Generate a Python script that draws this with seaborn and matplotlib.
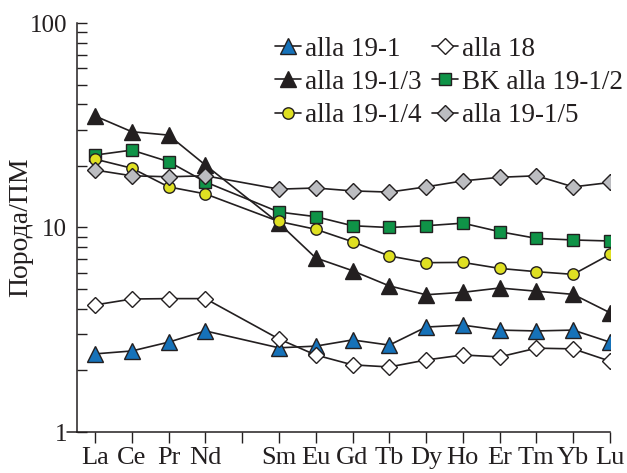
import matplotlib
matplotlib.use("Agg")
import matplotlib.pyplot as plt
import seaborn as sns
import numpy as np
import pandas as pd

elements = ["La", "Ce", "Pr", "Nd", "Pm", "Sm", "Eu", "Gd", "Tb", "Dy", "Ho", "Er", "Tm", "Yb", "Lu"]
used = ["La", "Ce", "Pr", "Nd", "Sm", "Eu", "Gd", "Tb", "Dy", "Ho", "Er", "Tm", "Yb", "Lu"]

alla_19_1 = [2.41, 2.49, 2.75, 3.12, 2.58, 2.63, 2.82, 2.66, 3.26, 3.33, 3.15, 3.12, 3.15, 2.75]
alla_18 = [4.18, 4.47, 4.49, 4.49, 2.85, 2.38, 2.13, 2.08, 2.25, 2.38, 2.33, 2.57, 2.55, 2.22]
alla_19_1_3 = [35.1, 29.4, 28.3, 20.2, 10.5, 7.1, 6.15, 5.18, 4.69, 4.82, 5.06, 4.88, 4.71, 3.83]
bk_alla_19_1_2 = [22.6, 23.9, 21.0, 16.7, 11.9, 11.3, 10.2, 10.0, 10.2, 10.5, 9.54, 8.85, 8.69, 8.59]
alla_19_1_4 = [21.6, 19.5, 15.8, 14.6, 10.7, 9.8, 8.52, 7.26, 6.73, 6.75, 6.31, 6.08, 5.9, 7.39]
alla_19_1_5 = [19.1, 17.9, 17.7, 17.9, 15.4, 15.6, 15.1, 14.9, 15.8, 16.9, 17.6, 17.9, 15.8, 16.6]

series_names = ["alla 19-1", "alla 19-1/3", "alla 19-1/4", "alla 18", "BK alla 19-1/2", "alla 19-1/5"]
series_values = [alla_19_1, alla_19_1_3, alla_19_1_4, alla_18, bk_alla_19_1_2, alla_19_1_5]

styles = {
    "alla 19-1": dict(marker="^", mfc="#1672b9", ms=11.5),
    "alla 19-1/3": dict(marker="^", mfc="#231f20", ms=11.5),
    "alla 19-1/4": dict(marker="o", mfc="#dfe022", ms=8.2),
    "alla 18": dict(marker="D", mfc="#ffffff", ms=7.8),
    "BK alla 19-1/2": dict(marker="s", mfc="#0f9347", ms=8.2),
    "alla 19-1/5": dict(marker="D", mfc="#bcbdc1", ms=7.8),
}

sns.set_theme(style="ticks")
plt.rcParams["font.family"] = ["Liberation Serif", "DejaVu Serif"]

ink = "#231f20"
fig = plt.figure(figsize=(6.27, 4.73), dpi=100)
ax = fig.add_axes([77 / 627, 1 - 432 / 473, 533 / 627, (432 - 23) / 473])

xpos = [elements.index(e) for e in used]
draw_order = ["alla 19-1", "alla 18", "alla 19-1/3", "BK alla 19-1/2", "alla 19-1/4", "alla 19-1/5"]
handles = {}
for name in draw_order:
    vals = series_values[series_names.index(name)]
    df = pd.DataFrame({"x": xpos, "y": vals})
    st = styles[name]
    sns.lineplot(data=df, x="x", y="y", ax=ax, color=ink, lw=1.2,
                 marker=st["marker"], markersize=st["ms"], markerfacecolor=st["mfc"],
                 markeredgecolor=ink, markeredgewidth=1.0, legend=False)
    handles[name] = ax.get_lines()[-1]

ax.set_yscale("log")
ax.set_ylim(1, 100)
ax.set_xlim(-0.49, 14)
ax.set_xticks(range(len(elements)))
ax.set_xticklabels([e if e != "Pm" else "" for e in elements])
ax.set_yticks([1, 10, 100])
ax.set_yticklabels(["1", "10", "100"])
ax.yaxis.set_minor_locator(matplotlib.ticker.LogLocator(base=10, subs=np.arange(2, 10)))
ax.yaxis.set_minor_formatter(matplotlib.ticker.NullFormatter())

for s in ["top", "right"]:
    ax.spines[s].set_visible(False)
for s in ["left", "bottom"]:
    ax.spines[s].set_color(ink)
    ax.spines[s].set_linewidth(1.1)

ax.tick_params(axis="y", which="both", direction="in", length=7, width=1.0, color=ink,
               labelsize=18, labelcolor=ink, pad=7)
ax.tick_params(axis="x", which="major", direction="out", length=8, width=1.0, color=ink,
               labelsize=19, labelcolor=ink, pad=3)
ax.plot([-10 / 533, 0], [0, 0], transform=ax.transAxes, clip_on=False, color=ink, lw=1.1)

ax.set_xlabel("")
ax.set_ylabel("Порода/ПМ", fontsize=20, color=ink)
ax.yaxis.set_label_coords((33 - 77) / 533, 0.5)

leg = fig.legend([handles[n] for n in series_names], series_names, ncol=2, loc="upper right",
                 bbox_to_anchor=(631 / 627, 0.94), frameon=False, fontsize=19.5,
                 handlelength=0.95, handletextpad=0.15, columnspacing=0.4, labelspacing=0.31,
                 borderaxespad=0.0, borderpad=0.3)
for t in leg.get_texts():
    t.set_color(ink)

fig.savefig("out.png", dpi=100)
